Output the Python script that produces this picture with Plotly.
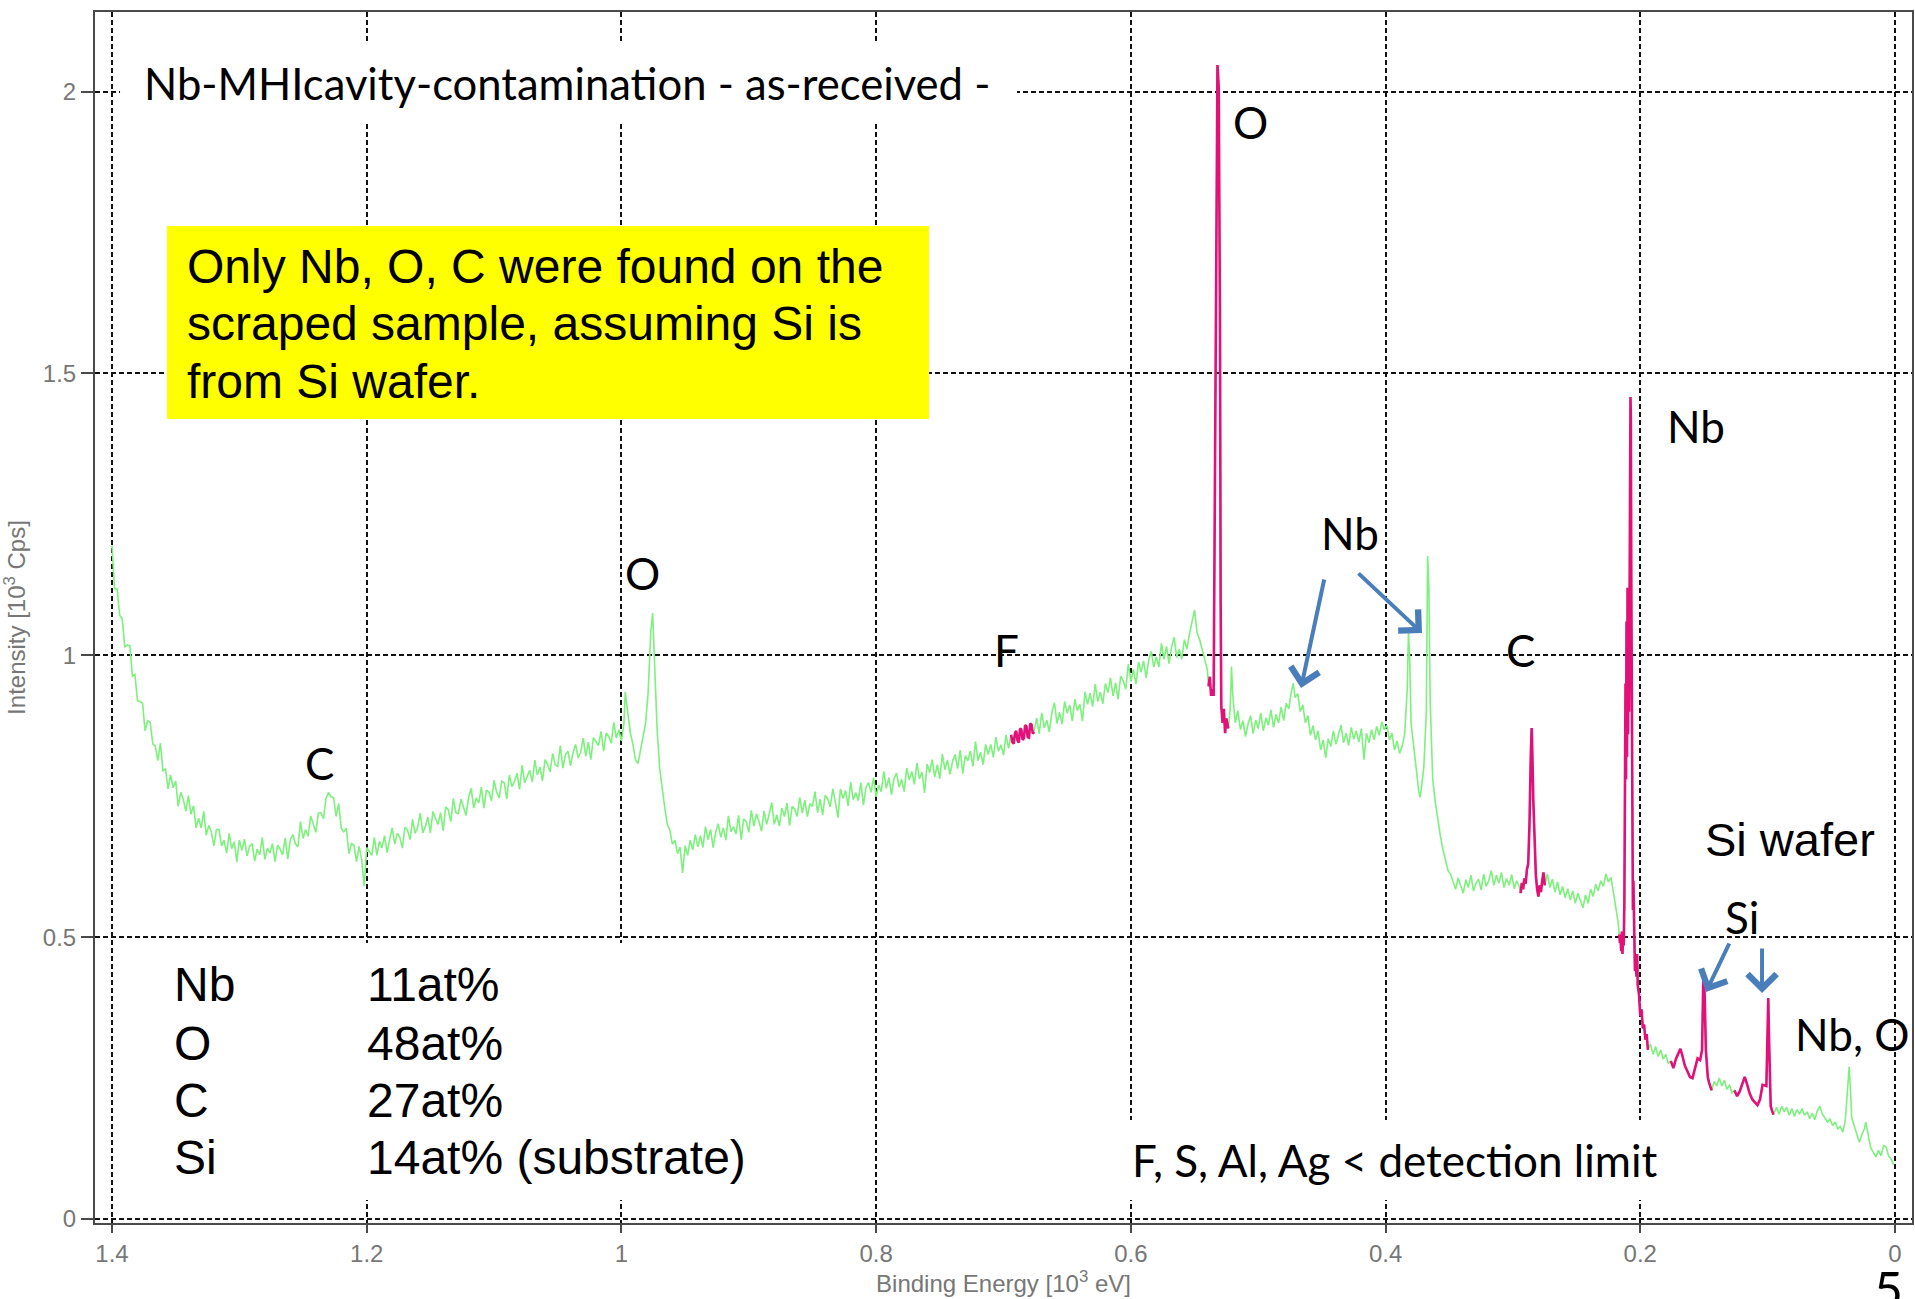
import plotly.graph_objects as go

# ---------------- data: (binding energy [10^3 eV], intensity [10^3 Cps]) ----------------
seg_high_energy = [  # 1.400 .. 1.190 : secondary-electron tail, C KLL
    (1.400, 1.195), (1.398, 1.118), (1.396, 1.118), (1.394, 1.071), (1.392, 1.065), (1.390, 1.015),
    (1.388, 1.018), (1.386, 1.017), (1.384, 0.963), (1.382, 0.966), (1.380, 0.919), (1.378, 0.918),
    (1.376, 0.915), (1.374, 0.866), (1.372, 0.884), (1.370, 0.881), (1.368, 0.843), (1.366, 0.839),
    (1.364, 0.813), (1.362, 0.844), (1.360, 0.795), (1.358, 0.798), (1.356, 0.763), (1.354, 0.788),
    (1.352, 0.765), (1.350, 0.777), (1.348, 0.732), (1.346, 0.757), (1.344, 0.744), (1.342, 0.723),
    (1.340, 0.751), (1.338, 0.718), (1.336, 0.733), (1.334, 0.694), (1.332, 0.711), (1.330, 0.694),
    (1.328, 0.723), (1.326, 0.681), (1.324, 0.698), (1.322, 0.686), (1.320, 0.662), (1.318, 0.691),
    (1.316, 0.691), (1.314, 0.662), (1.312, 0.672), (1.310, 0.649), (1.308, 0.684), (1.306, 0.657),
    (1.304, 0.669), (1.302, 0.633), (1.300, 0.672), (1.298, 0.654), (1.296, 0.674), (1.294, 0.644),
    (1.292, 0.661), (1.290, 0.666), (1.288, 0.635), (1.286, 0.656), (1.284, 0.646), (1.282, 0.677),
    (1.280, 0.638), (1.278, 0.658), (1.276, 0.649), (1.274, 0.666), (1.272, 0.634), (1.270, 0.663),
    (1.268, 0.656), (1.266, 0.646), (1.264, 0.676), (1.262, 0.639), (1.260, 0.673), (1.258, 0.682),
    (1.256, 0.666), (1.254, 0.660), (1.252, 0.705), (1.250, 0.675), (1.248, 0.691), (1.246, 0.679),
    (1.244, 0.715), (1.242, 0.698), (1.240, 0.686), (1.238, 0.720), (1.236, 0.721), (1.234, 0.710),
    (1.232, 0.746), (1.230, 0.757), (1.228, 0.749), (1.226, 0.747), (1.224, 0.714), (1.222, 0.737),
    (1.220, 0.693), (1.218, 0.687), (1.216, 0.693), (1.214, 0.648), (1.212, 0.666), (1.210, 0.663),
    (1.208, 0.634), (1.206, 0.661), (1.204, 0.638), (1.202, 0.591), (1.200, 0.659), (1.198, 0.652),
    (1.196, 0.645), (1.194, 0.677), (1.192, 0.645), (1.190, 0.670),
]
seg_rising_background = [  # 1.188 .. 1.000
    (1.188, 0.658), (1.186, 0.680), (1.184, 0.650), (1.182, 0.673), (1.180, 0.694), (1.178, 0.665),
    (1.176, 0.684), (1.174, 0.677), (1.172, 0.658), (1.170, 0.695), (1.168, 0.690), (1.166, 0.673),
    (1.164, 0.709), (1.162, 0.684), (1.160, 0.695), (1.158, 0.720), (1.156, 0.685), (1.154, 0.696),
    (1.152, 0.713), (1.150, 0.685), (1.148, 0.723), (1.146, 0.711), (1.144, 0.700), (1.142, 0.721),
    (1.140, 0.689), (1.138, 0.731), (1.136, 0.726), (1.134, 0.705), (1.132, 0.746), (1.130, 0.721),
    (1.128, 0.719), (1.126, 0.745), (1.124, 0.732), (1.122, 0.716), (1.120, 0.748), (1.118, 0.764),
    (1.116, 0.729), (1.114, 0.747), (1.112, 0.738), (1.110, 0.766), (1.108, 0.729), (1.106, 0.761),
    (1.104, 0.757), (1.102, 0.742), (1.100, 0.778), (1.098, 0.757), (1.096, 0.747), (1.094, 0.777),
    (1.092, 0.774), (1.090, 0.745), (1.088, 0.788), (1.086, 0.767), (1.084, 0.776), (1.082, 0.791),
    (1.080, 0.762), (1.078, 0.805), (1.076, 0.774), (1.074, 0.784), (1.072, 0.796), (1.070, 0.775),
    (1.068, 0.814), (1.066, 0.788), (1.064, 0.802), (1.062, 0.777), (1.060, 0.815), (1.058, 0.806),
    (1.056, 0.793), (1.054, 0.826), (1.052, 0.806), (1.050, 0.803), (1.048, 0.840), (1.046, 0.800),
    (1.044, 0.824), (1.042, 0.830), (1.040, 0.804), (1.038, 0.827), (1.036, 0.842), (1.034, 0.818),
    (1.032, 0.828), (1.030, 0.853), (1.028, 0.821), (1.026, 0.846), (1.024, 0.815), (1.022, 0.854),
    (1.020, 0.848), (1.018, 0.840), (1.016, 0.865), (1.014, 0.830), (1.012, 0.862), (1.010, 0.856),
    (1.008, 0.844), (1.006, 0.881), (1.004, 0.853), (1.002, 0.868), (1.000, 0.848),
]
seg_O_KLL = [  # 0.998 .. 0.940
    (0.998, 0.880), (0.997, 0.935), (0.996, 0.915), (0.995, 0.900), (0.993, 0.862), (0.991, 0.842),
    (0.989, 0.815), (0.987, 0.808), (0.985, 0.830), (0.983, 0.858), (0.981, 0.880), (0.979, 0.935),
    (0.977, 1.040), (0.9755, 1.075), (0.974, 0.990), (0.972, 0.870), (0.970, 0.800), (0.968, 0.762),
    (0.966, 0.730), (0.964, 0.700), (0.962, 0.690), (0.960, 0.665), (0.958, 0.672), (0.956, 0.648),
    (0.954, 0.660), (0.952, 0.614), (0.950, 0.662), (0.948, 0.645), (0.946, 0.672), (0.944, 0.655),
    (0.942, 0.682), (0.940, 0.660),
]
seg_mid_background = [  # 0.938 .. 0.540 (incl. F 1s window)
    (0.938, 0.680), (0.936, 0.659), (0.934, 0.696), (0.932, 0.673), (0.930, 0.691), (0.928, 0.659),
    (0.926, 0.686), (0.924, 0.701), (0.922, 0.677), (0.920, 0.694), (0.918, 0.672), (0.916, 0.715),
    (0.914, 0.687), (0.912, 0.696), (0.910, 0.683), (0.908, 0.716), (0.906, 0.673), (0.904, 0.710),
    (0.902, 0.705), (0.900, 0.686), (0.898, 0.725), (0.896, 0.697), (0.894, 0.719), (0.892, 0.705),
    (0.890, 0.688), (0.888, 0.724), (0.886, 0.700), (0.884, 0.718), (0.882, 0.739), (0.880, 0.700),
    (0.878, 0.717), (0.876, 0.697), (0.874, 0.729), (0.872, 0.714), (0.870, 0.738), (0.868, 0.698),
    (0.866, 0.732), (0.864, 0.727), (0.862, 0.714), (0.860, 0.748), (0.858, 0.720), (0.856, 0.743),
    (0.854, 0.714), (0.852, 0.737), (0.850, 0.732), (0.848, 0.758), (0.846, 0.721), (0.844, 0.745),
    (0.842, 0.717), (0.840, 0.752), (0.838, 0.745), (0.836, 0.731), (0.834, 0.763), (0.832, 0.739),
    (0.830, 0.712), (0.828, 0.763), (0.826, 0.746), (0.824, 0.760), (0.822, 0.733), (0.820, 0.775),
    (0.818, 0.744), (0.816, 0.756), (0.814, 0.742), (0.812, 0.774), (0.810, 0.734), (0.808, 0.766),
    (0.806, 0.774), (0.804, 0.757), (0.802, 0.783), (0.800, 0.749), (0.798, 0.770), (0.796, 0.758),
    (0.794, 0.794), (0.792, 0.764), (0.790, 0.783), (0.788, 0.753), (0.786, 0.781), (0.784, 0.791),
    (0.782, 0.766), (0.780, 0.780), (0.778, 0.758), (0.776, 0.800), (0.774, 0.779), (0.772, 0.794),
    (0.770, 0.771), (0.768, 0.809), (0.766, 0.781), (0.764, 0.793), (0.762, 0.756), (0.760, 0.807),
    (0.758, 0.792), (0.756, 0.815), (0.754, 0.784), (0.752, 0.806), (0.750, 0.781), (0.748, 0.825),
    (0.746, 0.797), (0.744, 0.814), (0.742, 0.789), (0.740, 0.812), (0.738, 0.824), (0.736, 0.799),
    (0.734, 0.832), (0.732, 0.790), (0.730, 0.822), (0.728, 0.813), (0.726, 0.830), (0.724, 0.803),
    (0.722, 0.847), (0.720, 0.813), (0.718, 0.828), (0.716, 0.806), (0.714, 0.842), (0.712, 0.824),
    (0.710, 0.842), (0.708, 0.819), (0.706, 0.855), (0.704, 0.830), (0.702, 0.841), (0.700, 0.823),
    (0.698, 0.859), (0.696, 0.835), (0.694, 0.859), (0.693, 0.846), (0.692, 0.843), (0.691, 0.862),
    (0.690, 0.866), (0.689, 0.849), (0.688, 0.845), (0.687, 0.870), (0.686, 0.868), (0.685, 0.850),
    (0.684, 0.853), (0.683, 0.876), (0.682, 0.874), (0.681, 0.855), (0.680, 0.854), (0.679, 0.879),
    (0.678, 0.877), (0.677, 0.861), (0.676, 0.864), (0.674, 0.889), (0.672, 0.861), (0.670, 0.898),
    (0.668, 0.871), (0.666, 0.885), (0.664, 0.864), (0.662, 0.899), (0.660, 0.916), (0.658, 0.879),
    (0.656, 0.899), (0.654, 0.878), (0.652, 0.918), (0.650, 0.897), (0.648, 0.912), (0.646, 0.883),
    (0.644, 0.922), (0.642, 0.902), (0.640, 0.913), (0.638, 0.883), (0.636, 0.935), (0.634, 0.913),
    (0.632, 0.933), (0.630, 0.909), (0.628, 0.949), (0.626, 0.918), (0.624, 0.935), (0.622, 0.914),
    (0.620, 0.950), (0.618, 0.934), (0.616, 0.960), (0.614, 0.928), (0.612, 0.951), (0.610, 0.922),
    (0.608, 0.963), (0.606, 0.955), (0.604, 0.940), (0.602, 0.985), (0.600, 0.954), (0.598, 0.975),
    (0.596, 0.949), (0.594, 0.988), (0.592, 0.970), (0.590, 0.990), (0.588, 0.960), (0.586, 0.992),
    (0.584, 1.007), (0.582, 0.979), (0.580, 0.997), (0.578, 0.979), (0.576, 1.021), (0.574, 0.993),
    (0.572, 1.016), (0.570, 0.985), (0.568, 1.015), (0.566, 1.032), (0.564, 0.996), (0.562, 1.011),
    (0.560, 0.993), (0.558, 1.028), (0.556, 1.011), (0.554, 1.038), (0.552, 1.060), (0.550, 1.080),
    (0.548, 1.040), (0.546, 1.028), (0.544, 1.010), (0.542, 0.990), (0.540, 0.975),
]
seg_O1s = [  # 0.539 .. 0.5235
    (0.539, 0.945), (0.538, 0.962), (0.537, 0.928), (0.536, 0.940), (0.535, 0.928), (0.534, 1.300),
    (0.533, 1.600), (0.532, 2.047), (0.531, 2.008), (0.530, 1.580), (0.5295, 1.100), (0.529, 0.910),
    (0.528, 0.880), (0.527, 0.905), (0.526, 0.862), (0.525, 0.888), (0.5235, 0.870),
]
seg_Nb_MNN = [  # 0.522 .. 0.347
    (0.522, 0.905), (0.521, 0.980), (0.520, 0.930), (0.518, 0.880), (0.516, 0.902), (0.514, 0.868),
    (0.512, 0.884), (0.510, 0.856), (0.508, 0.878), (0.506, 0.893), (0.504, 0.861), (0.502, 0.885),
    (0.500, 0.870), (0.498, 0.898), (0.496, 0.866), (0.494, 0.889), (0.492, 0.876), (0.490, 0.903),
    (0.488, 0.872), (0.486, 0.895), (0.484, 0.880), (0.482, 0.908), (0.480, 0.884), (0.478, 0.915),
    (0.476, 0.905), (0.474, 0.935), (0.4725, 0.950), (0.471, 0.925), (0.469, 0.932), (0.467, 0.900),
    (0.465, 0.912), (0.463, 0.880), (0.461, 0.893), (0.459, 0.858), (0.457, 0.875), (0.455, 0.850),
    (0.453, 0.866), (0.451, 0.832), (0.449, 0.850), (0.447, 0.818), (0.445, 0.852), (0.443, 0.838),
    (0.441, 0.866), (0.439, 0.842), (0.437, 0.858), (0.435, 0.876), (0.433, 0.845), (0.431, 0.862),
    (0.429, 0.840), (0.427, 0.872), (0.425, 0.851), (0.423, 0.866), (0.421, 0.846), (0.419, 0.870),
    (0.417, 0.815), (0.415, 0.862), (0.413, 0.845), (0.411, 0.868), (0.409, 0.850), (0.407, 0.874),
    (0.405, 0.858), (0.403, 0.882), (0.401, 0.868), (0.399, 0.876), (0.397, 0.850), (0.395, 0.862),
    (0.393, 0.832), (0.391, 0.848), (0.389, 0.826), (0.387, 0.838), (0.385, 0.860), (0.383, 0.940),
    (0.382, 1.042), (0.381, 0.990), (0.380, 0.880), (0.378, 0.836), (0.376, 0.800), (0.374, 0.760),
    (0.373, 0.748), (0.372, 0.762), (0.370, 0.800), (0.368, 0.900), (0.367, 1.176), (0.366, 1.120),
    (0.365, 0.920), (0.363, 0.780), (0.361, 0.740), (0.359, 0.706), (0.357, 0.680), (0.355, 0.656),
    (0.353, 0.638), (0.351, 0.618), (0.349, 0.612), (0.347, 0.598),
]
seg_C1s_region = [  # 0.345 .. 0.2175
    (0.345, 0.585), (0.343, 0.605), (0.341, 0.590), (0.339, 0.578), (0.337, 0.602), (0.335, 0.588),
    (0.333, 0.610), (0.331, 0.582), (0.329, 0.596), (0.327, 0.603), (0.325, 0.584), (0.323, 0.612),
    (0.321, 0.590), (0.319, 0.600), (0.317, 0.618), (0.315, 0.592), (0.313, 0.610), (0.311, 0.596),
    (0.309, 0.615), (0.307, 0.588), (0.305, 0.604), (0.303, 0.592), (0.301, 0.611), (0.299, 0.586),
    (0.297, 0.600), (0.295, 0.590), (0.294, 0.578), (0.293, 0.596), (0.292, 0.585), (0.291, 0.604),
    (0.290, 0.595), (0.289, 0.620), (0.288, 0.630), (0.287, 0.700), (0.286, 0.820), (0.2853, 0.871),
    (0.285, 0.850), (0.284, 0.743), (0.283, 0.660), (0.282, 0.610), (0.281, 0.585), (0.280, 0.572),
    (0.279, 0.592), (0.278, 0.580), (0.277, 0.600), (0.276, 0.615), (0.275, 0.592), (0.273, 0.612),
    (0.271, 0.588), (0.269, 0.603), (0.267, 0.580), (0.265, 0.598), (0.263, 0.575), (0.261, 0.590),
    (0.259, 0.570), (0.257, 0.586), (0.255, 0.566), (0.253, 0.582), (0.251, 0.560), (0.249, 0.578),
    (0.247, 0.565), (0.245, 0.552), (0.243, 0.575), (0.241, 0.560), (0.239, 0.585), (0.237, 0.572),
    (0.235, 0.594), (0.233, 0.582), (0.231, 0.600), (0.229, 0.590), (0.227, 0.612), (0.225, 0.598),
    (0.223, 0.606), (0.221, 0.580), (0.219, 0.548), (0.2175, 0.528),
]
seg_Nb3d = [  # 0.2165 .. 0.1940
    (0.2165, 0.505), (0.2160, 0.490), (0.2155, 0.500), (0.2150, 0.475), (0.2145, 0.510), (0.2140, 0.470),
    (0.2135, 0.500), (0.2130, 0.485), (0.2125, 0.560), (0.2120, 0.740), (0.2116, 0.950), (0.2112, 0.780),
    (0.2108, 1.060), (0.2104, 0.820), (0.2100, 1.120), (0.2096, 0.860), (0.2092, 1.100), (0.2088, 0.900),
    (0.2084, 1.080), (0.2080, 1.250), (0.2077, 1.458), (0.2074, 1.420), (0.2070, 1.100), (0.2066, 0.800),
    (0.2062, 0.640), (0.2058, 0.548), (0.2054, 0.600), (0.2050, 0.505), (0.2046, 0.525), (0.2042, 0.440),
    (0.2038, 0.470), (0.2030, 0.430), (0.2025, 0.470), (0.2020, 0.415), (0.2010, 0.398), (0.2000, 0.360),
    (0.1990, 0.372), (0.1980, 0.338), (0.1970, 0.345), (0.1960, 0.318), (0.1950, 0.328), (0.1940, 0.300),
]
seg_low_energy = [  # 0.192 .. 0.001 : Si 2s / Si 2p, Nb 4s / O 2s
    (0.192, 0.310), (0.190, 0.292), (0.188, 0.306), (0.186, 0.288), (0.184, 0.300), (0.182, 0.284),
    (0.180, 0.292), (0.178, 0.276), (0.176, 0.280), (0.174, 0.268), (0.172, 0.284), (0.170, 0.296),
    (0.1685, 0.302), (0.167, 0.290), (0.165, 0.272), (0.163, 0.262), (0.161, 0.252), (0.159, 0.250),
    (0.157, 0.268), (0.155, 0.285), (0.153, 0.282), (0.1515, 0.300), (0.1505, 0.427), (0.1495, 0.400),
    (0.1485, 0.300), (0.147, 0.252), (0.146, 0.242), (0.145, 0.236), (0.144, 0.228), (0.142, 0.244),
    (0.140, 0.236), (0.138, 0.250), (0.136, 0.236), (0.134, 0.246), (0.132, 0.230), (0.130, 0.238),
    (0.128, 0.224), (0.126, 0.228), (0.124, 0.218), (0.122, 0.226), (0.120, 0.240), (0.118, 0.252),
    (0.116, 0.238), (0.114, 0.222), (0.112, 0.212), (0.110, 0.206), (0.108, 0.202), (0.106, 0.212),
    (0.104, 0.238), (0.1010, 0.236), (0.1000, 0.320), (0.0995, 0.392), (0.0990, 0.330), (0.0983, 0.240),
    (0.0976, 0.200), (0.0965, 0.192), (0.0955, 0.185), (0.093, 0.198), (0.091, 0.186), (0.089, 0.200),
    (0.087, 0.190), (0.085, 0.198), (0.083, 0.184), (0.081, 0.196), (0.079, 0.182), (0.077, 0.194),
    (0.075, 0.186), (0.073, 0.196), (0.071, 0.184), (0.069, 0.190), (0.067, 0.178), (0.065, 0.188),
    (0.063, 0.176), (0.061, 0.192), (0.059, 0.200), (0.057, 0.186), (0.055, 0.180), (0.053, 0.172),
    (0.051, 0.178), (0.049, 0.166), (0.047, 0.172), (0.045, 0.160), (0.043, 0.164), (0.041, 0.154),
    (0.039, 0.176), (0.037, 0.240), (0.036, 0.270), (0.035, 0.230), (0.034, 0.180), (0.032, 0.165),
    (0.030, 0.150), (0.028, 0.136), (0.026, 0.150), (0.024, 0.160), (0.023, 0.172), (0.021, 0.150),
    (0.019, 0.126), (0.017, 0.118), (0.015, 0.110), (0.013, 0.122), (0.011, 0.112), (0.009, 0.130),
    (0.007, 0.128), (0.005, 0.112), (0.003, 0.106), (0.001, 0.096),
]

# energy windows (10^3 eV) that the analysis software marks in magenta
peak_windows = [(0.695, 0.675), (0.5395, 0.5235), (0.2945, 0.2745),
                (0.2165, 0.1935), (0.177, 0.1435), (0.1265, 0.0945)]

x_ticks = [1.4, 1.2, 1.0, 0.8, 0.6, 0.4, 0.2, 0.0]
x_tick_labels = ["1.4", "1.2", "1", "0.8", "0.6", "0.4", "0.2", "0"]
y_ticks = [0, 0.5, 1, 1.5, 2]
y_tick_labels = ["0", "0.5", "1", "1.5", "2"]

elements = ["Nb", "O", "C", "Si"]
atomic_percent = ["11at%", "48at%", "27at%", "14at% (substrate)"]

# ---------------- build ----------------
spectrum = (seg_high_energy + seg_rising_background + seg_O_KLL + seg_mid_background + seg_O1s
            + seg_Nb_MNN + seg_C1s_region + seg_Nb3d + seg_low_energy)
binding_energy = [p[0] for p in spectrum]
intensity = [p[1] for p in spectrum]
marked = [y if any(hi <= x <= lo for lo, hi in peak_windows) else None
          for x, y in zip(binding_energy, intensity)]

GREEN = "#7DF07D"
PINK = "#E3107A"
BLUE = "#4A7EBB"
CAL = "Lato, 'Open Sans', sans-serif"
ARI = "'Liberation Sans', Arial, sans-serif"

fig = go.Figure()
fig.add_trace(go.Scatter(x=binding_energy, y=intensity, mode="lines",
                         line=dict(color=GREEN, width=1.6), showlegend=False, hoverinfo="skip"))
fig.add_trace(go.Scatter(x=binding_energy, y=marked, mode="lines", connectgaps=False,
                         line=dict(color=PINK, width=2.6), showlegend=False, hoverinfo="skip"))

# white patches that interrupt the grid behind text blocks, and the yellow note box
for x0, x1, y0, y1, col in [(1.3937, 0.6894, 1.946, 2.086, "white"),
                            (1.3701, 0.8912, 0.0337, 0.4896, "white"),
                            (0.6164, 0.1688, 0.0337, 0.1756, "white"),
                            (1.3568, 0.7585, 1.4192, 1.7616, "#FFFF00")]:
    fig.add_shape(type="rect", xref="x", yref="y", x0=x0, x1=x1, y0=y0, y1=y1,
                  fillcolor=col, line=dict(width=0), layer="between")


def label(text, x, y, size=44, family=CAL, xanchor="center", yanchor="middle", ref="data"):
    xr, yr = ("x", "y") if ref == "data" else ("paper", "paper")
    fig.add_annotation(text=text, x=x, y=y, xref=xr, yref=yr, showarrow=False,
                       xanchor=xanchor, yanchor=yanchor,
                       font=dict(family=family, size=size, color="black"))


label("Nb-MHIcavity-contamination - as-received -", 1.3764, 2.0153, size=43.6, xanchor="left")
label("O", 0.5057, 1.9461)
label("Nb", 0.1563, 1.4068)
label("Nb", 0.4283, 1.2170)
label("O", 0.9838, 1.1460)
label("C", 1.2367, 0.8089)
label("F", 0.6976, 1.0094)
label("C", 0.2944, 1.0094)
label("Si wafer", 0.0824, 0.6732, size=47, family=ARI)
label("Si", 0.1201, 0.5357)
label("Nb, O", 0.0800, 0.3282, xanchor="left")
label("F, S, Al, Ag &lt; detection limit", 0.6005, 0.1047, xanchor="left")

for t, y in zip(["Only Nb, O, C were found on the", "scraped sample, assuming Si is", "from Si wafer."],
                [1.6906, 1.5886, 1.4866]):
    label(t, 1.3426, y, size=48, family=ARI, xanchor="left")

for el, at, y in zip(elements, atomic_percent, [0.4160, 0.3122, 0.2102, 0.1091]):
    label(el, 1.3531, y, size=48, family=ARI, xanchor="left")
    label(at, 1.2016, y, size=48, family=ARI, xanchor="left")

# slide number, partly cut off at the bottom edge
label("5", 0.978, -0.0281, size=50, xanchor="left", yanchor="top", ref="paper")

for hx, hy, ax, ay in [(0.4664, 0.9420, 23.5, -110), (0.3714, 1.0396, -65, -61),
                       (0.1484, 0.4027, 24, -50), (0.1044, 0.4009, 0, -46)]:
    fig.add_annotation(x=hx, y=hy, xref="x", yref="y", ax=ax, ay=ay, text="",
                       showarrow=True, arrowhead=4, arrowsize=1.4, arrowwidth=4, arrowcolor=BLUE)

axis_common = dict(showline=True, mirror=True, linecolor="#4a4a4a", linewidth=2,
                   showgrid=True, gridcolor="#111", gridwidth=1.5, griddash="5px,3px",
                   zeroline=False, ticks="outside", tickcolor="#4a4a4a", tickwidth=1.5,
                   automargin=False,
                   tickfont=dict(family=ARI, size=24, color="#777"),
                   title_font=dict(family=ARI, size=24, color="#777"))

fig.update_xaxes(**axis_common, range=[1.41335, -0.01335], tickvals=x_ticks,
                 ticktext=x_tick_labels, ticklen=8,
                 title_text="Binding Energy [10<sup>3</sup> eV]", title_standoff=8)
fig.update_yaxes(**axis_common, range=[-0.0071, 2.1412], tickvals=y_ticks,
                 ticktext=y_tick_labels, ticklen=12,
                 title_text="Intensity [10<sup>3</sup> Cps]", title_standoff=14)

fig.update_layout(width=1915, height=1299, margin=dict(l=95, r=3, t=12, b=76),
                  plot_bgcolor="white", paper_bgcolor="white")

# the page's default 8px body margin would shift the whole figure; remove it
fig.write_html("out.html", config={"displayModeBar": False},
               post_script="document.body.style.margin='0';")
